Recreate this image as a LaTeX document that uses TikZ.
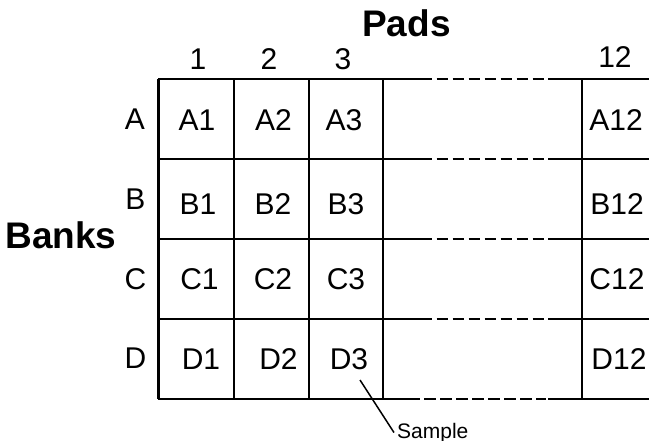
\documentclass[tikz,border=0pt]{standalone}
\usepackage{fontspec}
\setmainfont{Liberation Sans}
\usetikzlibrary{positioning}
\tikzset{grid/.style = {line width = 2.8pt}}
\tikzset{gapline/.style = {line width = 2.8pt, dash pattern = on 11.7pt off 4.3pt}}
\tikzset{cell/.style = {inner sep = 0, font = \fontsize{30}{32}\selectfont}}
\tikzset{axis/.style = {inner sep = 0, font = \fontsize{37}{39}\selectfont\bfseries}}
\tikzset{note/.style = {inner sep = 0, font = \fontsize{21}{23}\selectfont}}

\begin{document}
\begin{tikzpicture}[x = 1pt, y = -1pt]
    \useasboundingbox (0, 0) rectangle (649, 441);

    % rows
    \draw [grid] (158, 79) -- (432, 79);
    \draw [gapline] (436.7, 79) -- (544.3, 79);
    \draw [grid] (548, 79) -- (649, 79);
    \draw [grid] (158, 159) -- (432, 159);
    \draw [gapline] (436.7, 159) -- (544.3, 159);
    \draw [grid] (548, 159) -- (649, 159);
    \draw [grid] (158, 239) -- (432, 239);
    \draw [gapline] (436.7, 239) -- (544.3, 239);
    \draw [grid] (548, 239) -- (649, 239);
    \draw [grid] (158, 319) -- (432, 319);
    \draw [gapline] (436.7, 319) -- (544.3, 319);
    \draw [grid] (548, 319) -- (649, 319);
    \draw [grid] (158, 399) -- (420, 399);
    \draw [gapline, line width = 2.3pt] (424, 399) -- (546, 399);
    \draw [grid] (548, 399) -- (649, 399);

    % columns
    \draw [grid, line width = 3.3pt] (158.5, 79) -- (158.5, 399);
    \draw [grid] (234, 79) -- (234, 399);
    \draw [grid] (309, 79) -- (309, 399);
    \draw [grid] (383, 79) -- (383, 399);
    \draw [grid] (582, 79) -- (582, 399);

    \node [axis] (pads) at (406.5, 23) {Pads};
    \node [axis] (banks) at (61, 235) {Banks};

    \node [cell] (c1) at (198, 59) {1};
    \node [cell] (c2) at (269, 59) {2};
    \node [cell] (c3) at (343, 59) {3};
    \node [cell] (c12) at (615, 57) {12};

    \node [cell] (rA) at (135, 119) {A};
    \node [cell] (rB) at (135.5, 199) {B};
    \node [cell] (rC) at (135.5, 279) {C};
    \node [cell] (rD) at (135.5, 358) {D};

    \node [cell] (A1) at (197, 120) {A1};
    \node [cell] (A2) at (273.5, 120) {A2};
    \node [cell] (A3) at (344, 120) {A3};
    \node [cell] (A12) at (616, 120) {A12};
    \node [cell] (B1) at (198, 204) {B1};
    \node [cell] (B2) at (273, 204) {B2};
    \node [cell] (B3) at (346, 204) {B3};
    \node [cell] (B12) at (617, 204) {B12};
    \node [cell] (C1) at (199.5, 279) {C1};
    \node [cell] (C2) at (273, 279) {C2};
    \node [cell] (C3) at (346, 279) {C3};
    \node [cell] (C12) at (617, 279) {C12};
    \node [cell] (D1) at (201, 359) {D1};
    \node [cell] (D2) at (278.5, 359) {D2};
    \node [cell] (D3) at (349, 359) {D3};
    \node [cell] (D12) at (619, 359) {D12};

    \coordinate (tip) at (360, 380);
    \node [note, anchor = base west] (sample) at (397, 438) {Sample};
    \draw [line width = 1.5pt] (tip) -- ([xshift = -3pt] sample.west);
\end{tikzpicture}
\end{document}
